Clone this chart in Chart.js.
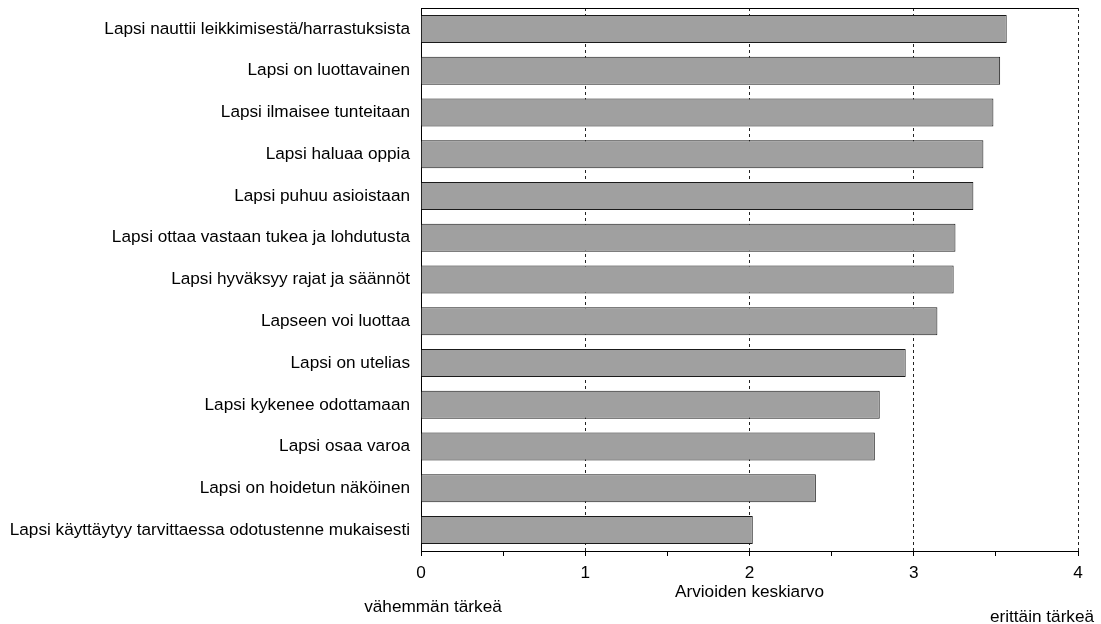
<!DOCTYPE html>
<html>
<head>
<meta charset="utf-8">
<script src="https://cdn.jsdelivr.net/npm/chart.js@4"></script>
<style>
  html, body { margin: 0; padding: 0; background: #fff; }
  #wrap { width: 1101px; height: 624px; position: relative; }
</style>
</head>
<body>
<div id="wrap"><canvas id="chart" width="1101" height="624"></canvas></div>
<script>
const categories = [
  "Lapsi nauttii leikkimisestä/harrastuksista",
  "Lapsi on luottavainen",
  "Lapsi ilmaisee tunteitaan",
  "Lapsi haluaa oppia",
  "Lapsi puhuu asioistaan",
  "Lapsi ottaa vastaan tukea ja lohdutusta",
  "Lapsi hyväksyy rajat ja säännöt",
  "Lapseen voi luottaa",
  "Lapsi on utelias",
  "Lapsi kykenee odottamaan",
  "Lapsi osaa varoa",
  "Lapsi on hoidetun näköinen",
  "Lapsi käyttäytyy tarvittaessa odotustenne mukaisesti",
];
const means = [3.566, 3.526, 3.485, 3.424, 3.363, 3.254, 3.243, 3.144, 2.951, 2.793, 2.763, 2.404, 2.02];
const axisTitle = "Arvioiden keskiarvo";
const lowLabel = "vähemmän tärkeä";
const highLabel = "erittäin tärkeä";

const FONT = "'Liberation Sans', Arial, sans-serif";
const SIZE = 17.2;

// top border + the two end captions
const extras = {
  id: "extras",
  afterDraw(chart) {
    const { ctx, chartArea } = chart;
    ctx.save();
    ctx.strokeStyle = "#000";
    ctx.lineWidth = 1;
    ctx.beginPath();
    ctx.moveTo(chartArea.left, chartArea.top + 0.5);
    ctx.lineTo(chartArea.right, chartArea.top + 0.5);
    ctx.stroke();

    ctx.fillStyle = "#000";
    ctx.font = SIZE + "px " + FONT;
    ctx.textBaseline = "middle";
    ctx.textAlign = "center";
    ctx.fillText(lowLabel, 433, 607);
    ctx.fillText(highLabel, 1042, 617);
    ctx.restore();
  },
};

new Chart(document.getElementById("chart"), {
  type: "bar",
  data: {
    labels: categories,
    datasets: [{
      data: means,
      backgroundColor: "#a0a0a0",
      borderColor: "#1a1a1a",
      borderWidth: 1,
      barPercentage: 0.67,
      categoryPercentage: 1,
    }],
  },
  options: {
    indexAxis: "y",
    responsive: false,
    animation: false,
    layout: { padding: { top: 8, right: 23, left: 0, bottom: 0 } },
    plugins: { legend: { display: false }, tooltip: { enabled: false } },
    scales: {
      x: {
        min: 0,
        max: 4,
        ticks: {
          stepSize: 0.5,
          color: "#000",
          font: { family: FONT, size: SIZE },
          padding: 7,
          maxRotation: 0,
          callback: (v) => (Number.isInteger(v) ? v : ""),
        },
        grid: {
          color: (c) => (c.tick && Number.isInteger(c.tick.value) && c.tick.value > 0 ? "#222" : "rgba(0,0,0,0)"),
          tickColor: "#000",
          tickLength: 5,
          lineWidth: 1,
        },
        border: { display: true, color: "#000", width: 1, dash: [3, 3] },
        title: {
          display: true,
          text: axisTitle,
          color: "#000",
          font: { family: FONT, size: SIZE },
          padding: { top: 0, bottom: 21 },
        },
        afterFit(scale) {
          scale.height = 73;
          scale.paddingLeft = 0;
          scale.paddingRight = 0;
        },
      },
      y: {
        ticks: {
          color: "#000",
          font: { family: FONT, size: SIZE },
          padding: 11,
        },
        grid: { display: false, drawTicks: false },
        border: { display: true, color: "#000", width: 1 },
        afterFit(scale) {
          scale.width = 421;
          scale.paddingTop = 0;
          scale.paddingBottom = 0;
        },
      },
    },
  },
  plugins: [extras],
});
</script>
</body>
</html>
